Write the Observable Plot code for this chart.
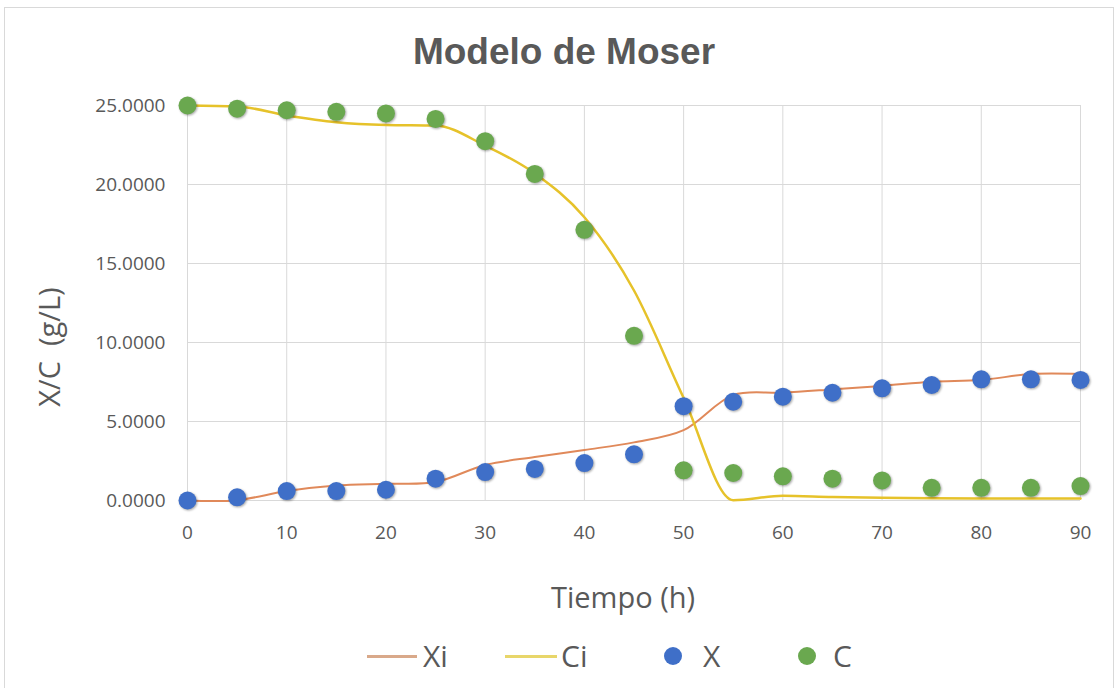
<!DOCTYPE html>
<html>
<head>
<meta charset="utf-8">
<script src="https://cdn.jsdelivr.net/npm/d3@7"></script>
<script src="https://cdn.jsdelivr.net/npm/@observablehq/plot@0.6"></script>
<style>
  html, body { margin: 0; padding: 0; background: #fff; }
  #wrap { position: relative; width: 1117px; height: 688px; overflow: hidden; font-family: "Open Sans", sans-serif; color: #595959; }
  #frame { position: absolute; left: 4px; top: 7px; width: 1110px; height: 700px; border: 1px solid #d9d9d9; box-sizing: border-box; }
  #title { position: absolute; left: 264px; width: 600px; top: 33px; text-align: center; font: bold 37px "Liberation Sans", Arial, sans-serif; line-height: 37px; color: #595959; }
  #chart { position: absolute; left: 0; top: 90px; }
  #ytitle { position: absolute; left: 48px; top: 347px; transform: translate(-50%, -50%) rotate(-90deg); white-space: pre; font-size: 29px; line-height: 29px; color: #595959; }
  .leg { position: absolute; font-size: 30px; line-height: 30px; color: #595959; }
  .legline { position: absolute; height: 3px; }
  .legdot { position: absolute; width: 18px; height: 18px; border-radius: 50%; }
  g[aria-label="dot"] circle { filter: drop-shadow(1px 1px 1px rgba(0,0,0,0.35)); }
</style>
</head>
<body>
<div id="wrap">
  <div id="frame"></div>
  <div id="title">Modelo de Moser</div>
  <div id="chart"></div>
  <div id="ytitle">X/C  (g/L)</div>
  <div class="legline" style="left:367px; width:50px; top:655px; background:#d9a98a;"></div>
  <div class="leg" style="left:423px; top:641px;">Xi</div>
  <div class="legline" style="left:505px; width:52px; top:655px; background:#e8d66a;"></div>
  <div class="leg" style="left:561px; top:641px;">Ci</div>
  <div class="legdot" style="left:664px; top:647px; background:#3f6fc8;"></div>
  <div class="leg" style="left:703px; top:641px;">X</div>
  <div class="legdot" style="left:798px; top:647px; background:#6aa84f;"></div>
  <div class="leg" style="left:833px; top:641px;">C</div>
</div>
<script>
const tiempo = [0, 5, 10, 15, 20, 25, 30, 35, 40, 45, 50, 55, 60, 65, 70, 75, 80, 85, 90];
const X  = [0, 0.2, 0.6, 0.6, 0.68, 1.38, 1.8, 2.0, 2.37, 2.92, 5.97, 6.25, 6.57, 6.82, 7.1, 7.31, 7.67, 7.67, 7.63];
const C  = [25.0, 24.8, 24.7, 24.6, 24.5, 24.15, 22.74, 20.67, 17.13, 10.42, 1.91, 1.74, 1.53, 1.38, 1.27, 0.8, 0.8, 0.8, 0.91];
const Xi = [0, 0.02, 0.6, 0.95, 1.06, 1.17, 2.25, 2.75, 3.2, 3.68, 4.45, 6.67, 6.82, 7.03, 7.25, 7.52, 7.63, 8.0, 8.0];
const Ci = [25.0, 24.94, 24.37, 23.94, 23.77, 23.73, 22.46, 20.7, 17.93, 13.29, 6.5, 0.02, 0.3, 0.22, 0.18, 0.15, 0.13, 0.12, 0.12];
const yTicks = [0, 5, 10, 15, 20, 25];
const xTicks = [0, 10, 20, 30, 40, 50, 60, 70, 80, 90];

const rows = tiempo.map((t, i) => ({t, X: X[i], C: C[i], Xi: Xi[i], Ci: Ci[i]}));

const plot = Plot.plot({
  width: 1117,
  height: 530,
  marginLeft: 187,
  marginRight: 37,
  marginTop: 15,
  marginBottom: 120,
  style: {fontFamily: "'Open Sans', sans-serif", color: "#595959", background: "transparent", overflow: "visible"},
  x: {domain: [0, 90]},
  y: {domain: [0, 25]},
  marks: [
    Plot.gridY(yTicks, {stroke: "#d9d9d9", strokeOpacity: 1}),
    Plot.gridX(xTicks, {stroke: "#d9d9d9", strokeOpacity: 1}),
    Plot.axisY(yTicks, {tickSize: 0, tickPadding: 22, tickFormat: d3.format(".4f"), fontSize: 19, label: null}),
    Plot.axisX(xTicks, {tickSize: 0, tickPadding: 25, fontSize: 19, label: null}),
    Plot.line(rows, {x: "t", y: "Xi", curve: "catmull-rom", stroke: "#e0895a", strokeWidth: 2}),
    Plot.line(rows, {x: "t", y: "Ci", curve: "monotone-x", stroke: "#e6c22a", strokeWidth: 2.5}),
    Plot.dot(rows, {x: "t", y: "X", r: 9, fill: "#3f6fc8"}),
    Plot.dot(rows, {x: "t", y: "C", r: 9, fill: "#6aa84f"}),
    Plot.text(["Tiempo (h)"], {frameAnchor: "bottom", dx: -11, dy: 98, fontSize: 29, fill: "#595959", lineAnchor: "middle"})
  ]
});
document.getElementById("chart").appendChild(plot);
</script>
</body>
</html>
